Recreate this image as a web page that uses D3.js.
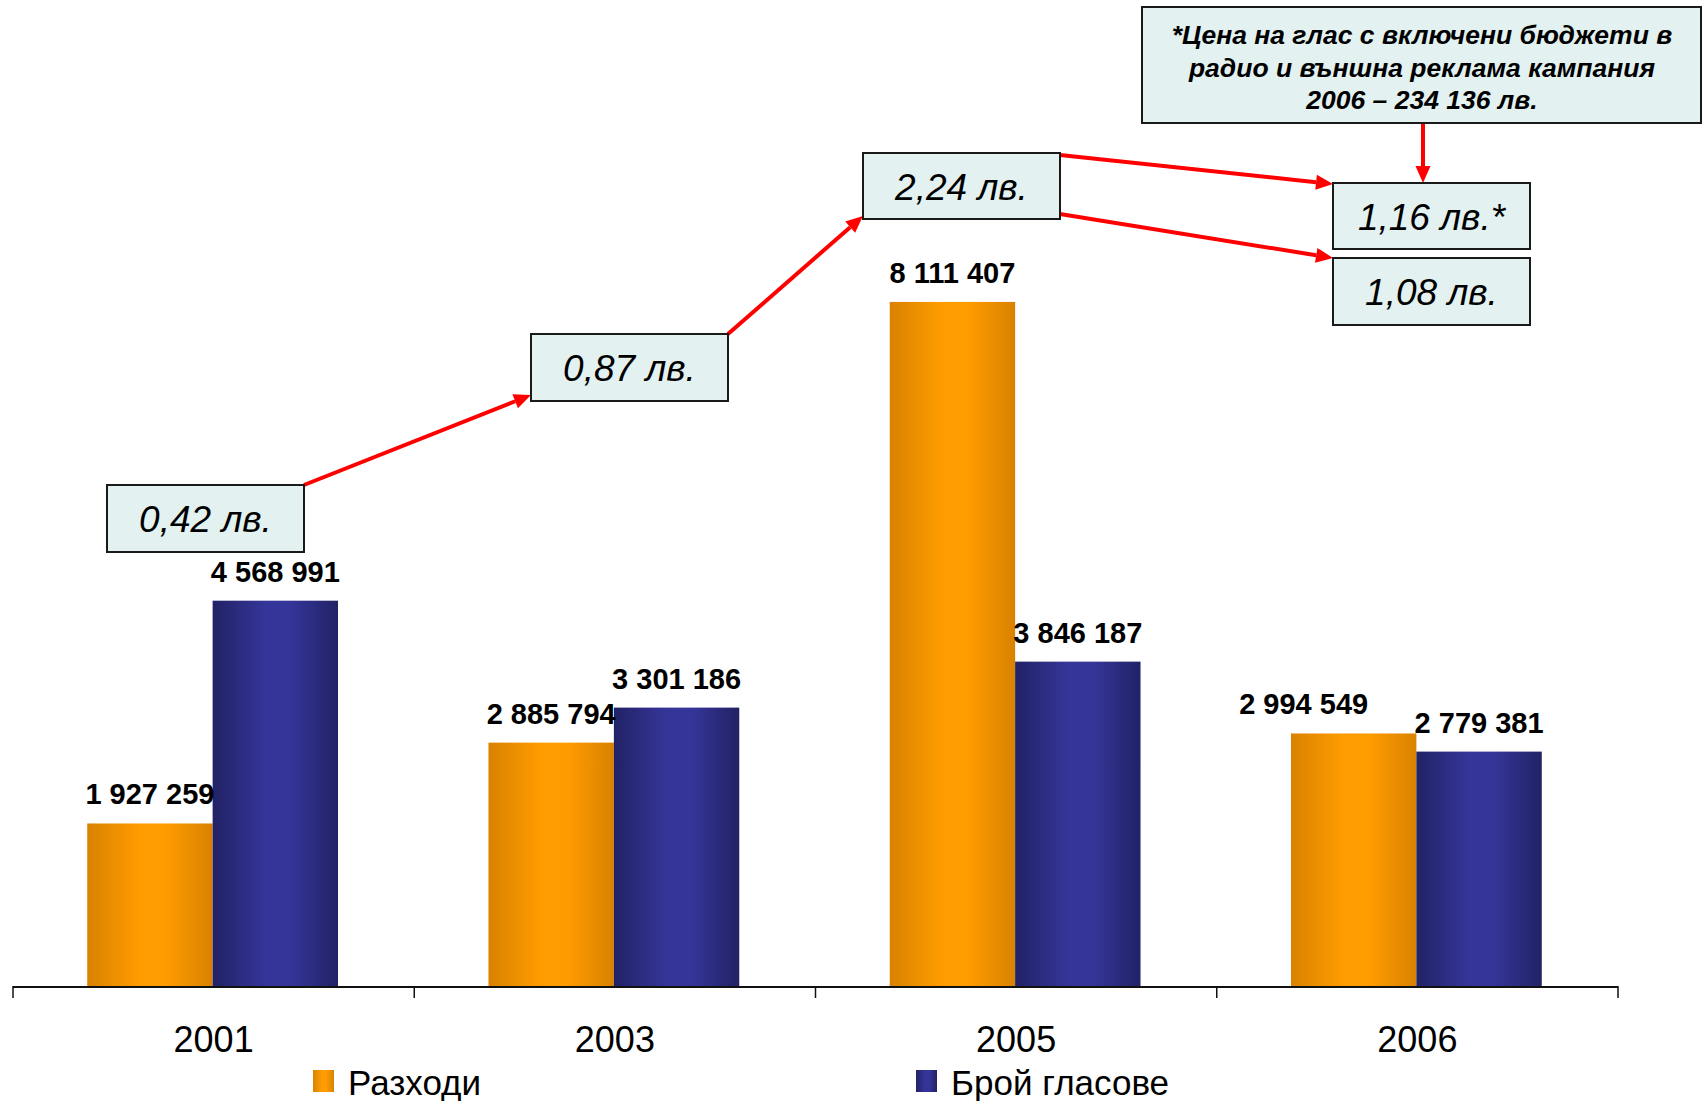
<!DOCTYPE html>
<html lang="bg">
<head>
<meta charset="utf-8">
<script src="https://cdn.jsdelivr.net/npm/d3@7"></script>
<style>
  body { margin: 0; background: #fff; }
  svg { display: block; font-family: "Liberation Sans", Arial, sans-serif; }
</style>
</head>
<body>
<svg id="chart" width="1703" height="1101"></svg>
<script>
const years = ["2001", "2003", "2005", "2006"];
const seriesNames = ["Разходи", "Брой гласове"];
const expenses = [1927259, 2885794, 8111407, 2994549];
const votes = [4568991, 3301186, 3846187, 2779381];
const pricePerVote = [0.42, 0.87, 2.24, 1.08];
const priceWithExtras = 1.16;
const noteLines = [
    "*Цена на глас с включени бюджети в",
    "радио и външна реклама кампания",
    "2006 – 234 136 лв."
];

const width = 1703, height = 1101;
const base = 986;
const svg = d3.select("#chart");

const fmtNum = (v) => d3.format(",")(v).replace(/,/g, " ");
const fmtPrice = (v) => d3.format(".2f")(v).replace(".", ",") + " лв.";

const x = d3.scaleBand().domain(years).range([13, 1618]).paddingInner(0).paddingOuter(0);
const x1 = d3.scaleBand().domain(seriesNames).range([-1, x.bandwidth() - 1]).paddingInner(0).paddingOuter(0.6);
const y = d3.scaleLinear().domain([0, 9000000]).range([base, 227]);

// gradients, dark at the edges like the Excel cylinders
const defs = svg.append("defs");
const grads = [
    {id: "gOrange", dark: "#d98200", light: "#ff9c00"},
    {id: "gBlue", dark: "#222266", light: "#353599"}
];
grads.forEach((g) => {
    const lg = defs.append("linearGradient").attr("id", g.id)
        .attr("x1", "0%").attr("x2", "100%").attr("y1", "0%").attr("y2", "0%");
    lg.append("stop").attr("offset", "0%").attr("stop-color", g.dark);
    lg.append("stop").attr("offset", "42%").attr("stop-color", g.light);
    lg.append("stop").attr("offset", "62%").attr("stop-color", g.light);
    lg.append("stop").attr("offset", "100%").attr("stop-color", g.dark);
});

const rows = years.map((yr, i) => ({year: yr, values: [expenses[i], votes[i]]}));
const labelNudge = [[0, 0], [0, 0], [0, 0], [-50, 0]];

const groups = svg.append("g").selectAll("g")
    .data(rows).enter().append("g")
    .attr("transform", (d) => `translate(${x(d.year)},0)`);

groups.selectAll("rect")
    .data((d) => d.values.map((v, k) => ({k, v})))
    .enter().append("rect")
    .attr("x", (d) => x1(seriesNames[d.k]))
    .attr("width", x1.bandwidth())
    .attr("y", (d) => y(d.v))
    .attr("height", (d) => base - y(d.v))
    .attr("fill", (d) => `url(#${grads[d.k].id})`);

groups.selectAll("text")
    .data((d, i) => d.values.map((v, k) => ({k, v, i})))
    .enter().append("text")
    .attr("x", (d) => x1(seriesNames[d.k]) + x1.bandwidth() / 2 + labelNudge[d.i][d.k])
    .attr("y", (d) => y(d.v) - 19)
    .attr("text-anchor", "middle")
    .attr("font-size", 29)
    .attr("font-weight", "bold")
    .text((d) => fmtNum(d.v));

// category axis
const axis = svg.append("g").attr("transform", `translate(0,${base})`)
    .call(d3.axisBottom(x).tickSize(0).tickPadding(40));
axis.select(".domain").remove();
axis.selectAll("text").attr("font-size", 36).attr("font-family", "Liberation Sans, Arial, sans-serif").attr("fill", "#000");

svg.append("line").attr("x1", 13).attr("x2", 1618).attr("y1", base + 1).attr("y2", base + 1)
    .attr("stroke", "#111").attr("stroke-width", 2);
const bounds = years.map((d) => x(d)).concat([x.range()[1]]);
svg.append("g").selectAll("line").data(bounds).enter().append("line")
    .attr("x1", (d) => d).attr("x2", (d) => d)
    .attr("y1", base).attr("y2", base + 12)
    .attr("stroke", "#111").attr("stroke-width", 1.5);

// legend
const legendPos = [{x: 313}, {x: 916}];
const leg = svg.append("g").selectAll("g").data(seriesNames).enter().append("g")
    .attr("transform", (d, i) => `translate(${legendPos[i].x},1070)`);
leg.append("rect").attr("width", 21).attr("height", 22)
    .attr("fill", (d, i) => `url(#${grads[i].id})`);
leg.append("text").attr("x", 35).attr("y", 25).attr("font-size", 35).text((d) => d);

// price annotations
const boxes = [
    {label: fmtPrice(pricePerVote[0]), x: 107, y: 485, w: 197, h: 67},
    {label: fmtPrice(pricePerVote[1]), x: 531, y: 334, w: 197, h: 67},
    {label: fmtPrice(pricePerVote[2]), x: 863, y: 153, w: 197, h: 66},
    {label: fmtPrice(priceWithExtras) + "*", x: 1333, y: 183, w: 197, h: 66},
    {label: fmtPrice(pricePerVote[3]), x: 1333, y: 258, w: 197, h: 67}
];
const note = {x: 1142, y: 7, w: 559, h: 116};

const arrows = [
    [[304, 485], [531, 395]],
    [[728, 334], [863, 216]],
    [[1060, 155], [1333, 184]],
    [[1060, 214], [1333, 258]],
    [[1423, 123], [1423, 183]]
];
const ar = svg.append("g");
arrows.forEach(([a, b]) => {
    const ang = Math.atan2(b[1] - a[1], b[0] - a[0]);
    const len = 17, hw = 7.5;
    const bx = b[0] - len * Math.cos(ang), by = b[1] - len * Math.sin(ang);
    ar.append("line").attr("x1", a[0]).attr("y1", a[1]).attr("x2", bx).attr("y2", by)
        .attr("stroke", "#ff0000").attr("stroke-width", 4);
    const px = -Math.sin(ang) * hw, py = Math.cos(ang) * hw;
    ar.append("path")
        .attr("d", `M${b[0]},${b[1]}L${bx + px},${by + py}L${bx - px},${by - py}Z`)
        .attr("fill", "#ff0000");
});

const bx = svg.append("g").selectAll("g").data(boxes).enter().append("g");
bx.append("rect").attr("x", (d) => d.x).attr("y", (d) => d.y)
    .attr("width", (d) => d.w).attr("height", (d) => d.h)
    .attr("fill", "#e3f1f1").attr("stroke", "#1a1a1a").attr("stroke-width", 2);
bx.append("text").attr("x", (d) => d.x + d.w / 2).attr("y", (d) => d.y + 47)
    .attr("text-anchor", "middle").attr("font-size", 37).attr("font-style", "italic")
    .text((d) => d.label);

svg.append("rect").attr("x", note.x).attr("y", note.y).attr("width", note.w).attr("height", note.h)
    .attr("fill", "#e3f1f1").attr("stroke", "#1a1a1a").attr("stroke-width", 2);
svg.append("g").selectAll("text").data(noteLines).enter().append("text")
    .attr("x", 1422).attr("y", (d, i) => 44 + i * 32.5)
    .attr("text-anchor", "middle").attr("font-size", 26.5)
    .attr("font-weight", "bold").attr("font-style", "italic")
    .text((d) => d);
</script>
</body>
</html>
